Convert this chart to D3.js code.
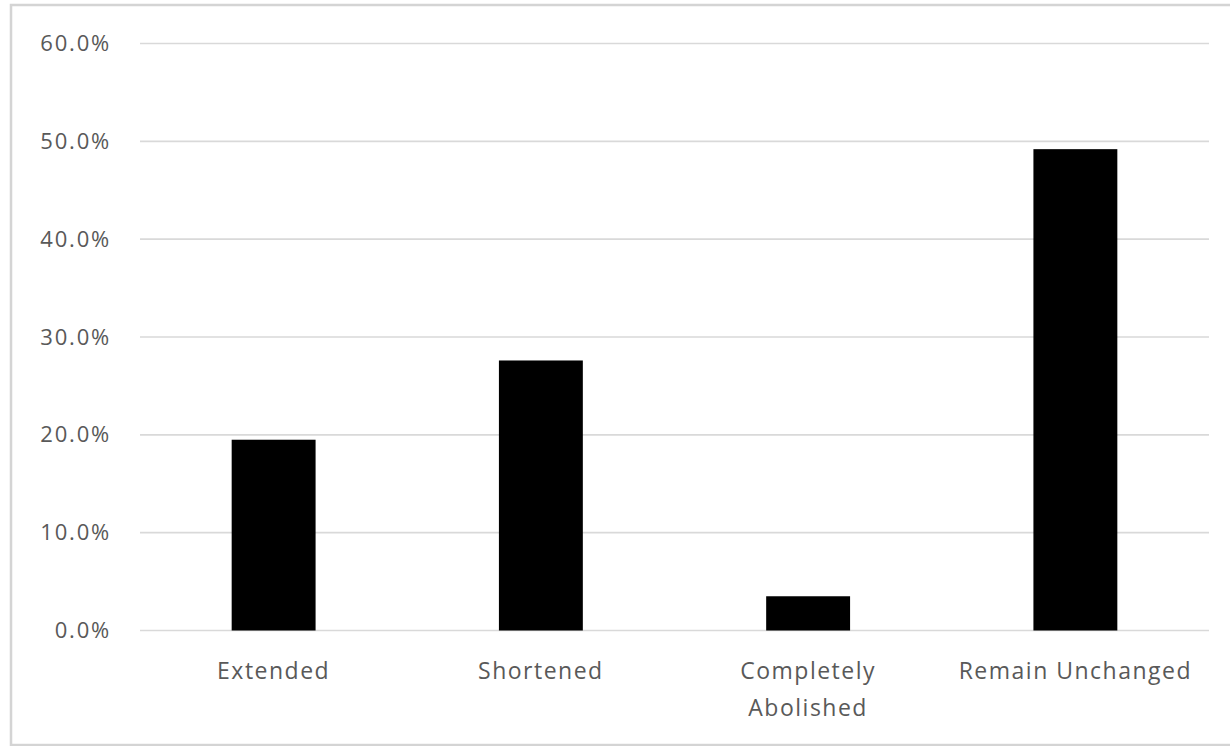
<!DOCTYPE html>
<html>
<head>
<meta charset="utf-8">
<script src="https://cdn.jsdelivr.net/npm/d3@7"></script>
<style>
  html, body { margin: 0; padding: 0; background: #ffffff; }
  svg { display: block; }
</style>
</head>
<body>
<svg id="chart" width="1230" height="746"></svg>
<script>
const categories = [["Extended"], ["Shortened"], ["Completely", "Abolished"], ["Remain Unchanged"]];
const values = [0.195, 0.276, 0.035, 0.492];
const yTicks = [0, 0.1, 0.2, 0.3, 0.4, 0.5, 0.6];

const svg = d3.select("#chart");
const plot = { left: 140, right: 1209, top: 43.5, bottom: 630.5 };

// outer border
svg.append("rect")
  .attr("x", 11).attr("y", 5)
  .attr("width", 1240).attr("height", 740)
  .attr("fill", "#ffffff")
  .attr("stroke", "#d4d4d4")
  .attr("stroke-width", 2.5);

const keys = categories.map(c => c.join(" "));
const x = d3.scaleBand().domain(keys).range([plot.left, plot.right])
  .paddingInner(0.686).paddingOuter(0.343);
const y = d3.scaleLinear().domain([0, 0.6]).range([plot.bottom, plot.top]);

// gridlines
svg.append("g").selectAll("line").data(yTicks).join("line")
  .attr("x1", plot.left).attr("x2", plot.right)
  .attr("y1", d => y(d)).attr("y2", d => y(d))
  .attr("stroke", "#d9d9d9").attr("stroke-width", 1.6);

// y axis labels
const yAxis = d3.axisLeft(y).tickValues(yTicks).tickFormat(d3.format(".1%")).tickSize(0).tickPadding(0);
const gy = svg.append("g").attr("transform", "translate(111,0)").call(yAxis);
gy.select(".domain").remove();
gy.selectAll("text")
  .attr("fill", "#595959")
  .style("font-family", "'Open Sans', sans-serif")
  .style("font-size", "22px")
  .style("letter-spacing", "1.8px");

// bars
svg.append("g").selectAll("rect").data(values).join("rect")
  .attr("x", (d, i) => x(keys[i]))
  .attr("width", x.bandwidth())
  .attr("y", d => y(d))
  .attr("height", d => y(0) - y(d))
  .attr("fill", "#000000");

// x labels
const gx = svg.append("g");
categories.forEach((lines, i) => {
  const cx = x(keys[i]) + x.bandwidth() / 2;
  const t = gx.append("text")
    .attr("x", cx)
    .attr("y", 679)
    .attr("text-anchor", "middle")
    .attr("fill", "#595959")
    .style("font-family", "'Open Sans', sans-serif")
    .style("font-size", "23px")
    .style("letter-spacing", "1.5px");
  lines.forEach((ln, j) => {
    t.append("tspan").attr("x", cx)
      .attr("dy", j === 0 ? 0 : 37).text(ln);
  });
});
</script>
</body>
</html>
